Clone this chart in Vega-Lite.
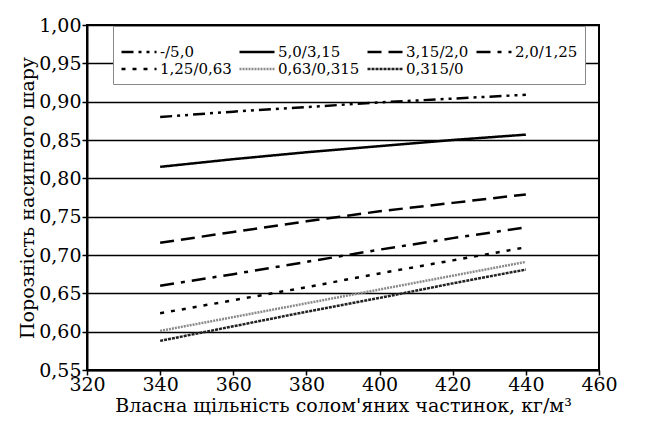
{
  "$schema": "https://vega.github.io/schema/vega-lite/v6.json",
  "width": 512,
  "height": 345,
  "autosize": {"type": "none"},
  "padding": {"left": 87, "top": 25, "right": 67, "bottom": 51},
  "background": "white",
  "config": {
    "font": "DejaVu Serif",
    "view": {"stroke": "black", "strokeWidth": 2},
    "axis": {"labelFont": "DejaVu Serif", "titleFont": "DejaVu Serif", "labelColor": "black", "titleColor": "black", "titleFontWeight": "normal", "domainColor": "black", "tickColor": "black"},
    "legend": {"labelFont": "DejaVu Serif"}
  },
  "data": {
    "values": [
      {"x": 340, "y": 0.880, "s": "-/5,0"}, {"x": 360, "y": 0.887, "s": "-/5,0"}, {"x": 380, "y": 0.893, "s": "-/5,0"}, {"x": 400, "y": 0.899, "s": "-/5,0"}, {"x": 420, "y": 0.904, "s": "-/5,0"}, {"x": 440, "y": 0.909, "s": "-/5,0"},
      {"x": 340, "y": 0.815, "s": "5,0/3,15"}, {"x": 360, "y": 0.825, "s": "5,0/3,15"}, {"x": 380, "y": 0.834, "s": "5,0/3,15"}, {"x": 400, "y": 0.842, "s": "5,0/3,15"}, {"x": 420, "y": 0.850, "s": "5,0/3,15"}, {"x": 440, "y": 0.857, "s": "5,0/3,15"},
      {"x": 340, "y": 0.716, "s": "3,15/2,0"}, {"x": 360, "y": 0.730, "s": "3,15/2,0"}, {"x": 380, "y": 0.744, "s": "3,15/2,0"}, {"x": 400, "y": 0.757, "s": "3,15/2,0"}, {"x": 420, "y": 0.768, "s": "3,15/2,0"}, {"x": 440, "y": 0.779, "s": "3,15/2,0"},
      {"x": 340, "y": 0.660, "s": "2,0/1,25"}, {"x": 360, "y": 0.675, "s": "2,0/1,25"}, {"x": 380, "y": 0.691, "s": "2,0/1,25"}, {"x": 400, "y": 0.707, "s": "2,0/1,25"}, {"x": 420, "y": 0.722, "s": "2,0/1,25"}, {"x": 440, "y": 0.736, "s": "2,0/1,25"},
      {"x": 340, "y": 0.624, "s": "1,25/0,63"}, {"x": 360, "y": 0.641, "s": "1,25/0,63"}, {"x": 380, "y": 0.658, "s": "1,25/0,63"}, {"x": 400, "y": 0.676, "s": "1,25/0,63"}, {"x": 420, "y": 0.693, "s": "1,25/0,63"}, {"x": 440, "y": 0.710, "s": "1,25/0,63"},
      {"x": 340, "y": 0.601, "s": "0,63/0,315"}, {"x": 360, "y": 0.619, "s": "0,63/0,315"}, {"x": 380, "y": 0.637, "s": "0,63/0,315"}, {"x": 400, "y": 0.655, "s": "0,63/0,315"}, {"x": 420, "y": 0.673, "s": "0,63/0,315"}, {"x": 440, "y": 0.691, "s": "0,63/0,315"},
      {"x": 340, "y": 0.588, "s": "0,315/0"}, {"x": 360, "y": 0.607, "s": "0,315/0"}, {"x": 380, "y": 0.626, "s": "0,315/0"}, {"x": 400, "y": 0.644, "s": "0,315/0"}, {"x": 420, "y": 0.663, "s": "0,315/0"}, {"x": 440, "y": 0.681, "s": "0,315/0"}
    ]
  },
  "mark": {"type": "line", "strokeWidth": 2.5},
  "encoding": {
    "x": {
      "field": "x", "type": "quantitative",
      "scale": {"domain": [320, 460], "nice": false, "zero": false},
      "axis": {
        "values": [320, 340, 360, 380, 400, 420, 440, 460],
        "grid": false, "domainWidth": 2, "tickWidth": 1.5, "tickSize": 5,
        "labelFontSize": 19, "labelPadding": 0, "labelFlush": false,
        "title": "Власна щільність солом'яних частинок, кг/м³",
        "titleFontSize": 19, "titlePadding": 2
      }
    },
    "y": {
      "field": "y", "type": "quantitative",
      "scale": {"domain": [0.55, 1.0], "nice": false, "zero": false},
      "axis": {
        "values": [0.55, 0.6, 0.65, 0.7, 0.75, 0.8, 0.85, 0.9, 0.95, 1.0],
        "labelExpr": "replace(format(datum.value, '.2f'), '.', ',')",
        "grid": true, "gridColor": "black", "gridWidth": 1.5, "gridOpacity": 1,
        "domainWidth": 2, "tickWidth": 1.5, "tickSize": 5,
        "labelFontSize": 19, "labelPadding": 1, "labelFlush": false,
        "title": "Порозність насипного шару",
        "titleFontSize": 19, "titlePadding": 1
      }
    },
    "color": {
      "field": "s", "type": "nominal",
      "scale": {
        "domain": ["-/5,0", "5,0/3,15", "3,15/2,0", "2,0/1,25", "1,25/0,63", "0,63/0,315", "0,315/0"],
        "range": ["black", "black", "black", "black", "black", "#8a8a8a", "#222222"]
      },
      "legend": {
        "title": null, "orient": "none", "legendX": 26, "legendY": 1,
        "direction": "horizontal", "columns": 4, "gridAlign": "none", "columnPadding": 2, "rowPadding": -10,
        "fillColor": "white", "strokeColor": "#888888", "padding": 7,
        "symbolType": "stroke", "symbolSize": 1225, "symbolStrokeWidth": 2.5,
        "labelFontSize": 15, "labelColor": "black", "labelOffset": 2
      }
    },
    "strokeDash": {
      "field": "s", "type": "nominal",
      "scale": {
        "domain": ["-/5,0", "5,0/3,15", "3,15/2,0", "2,0/1,25", "1,25/0,63", "0,63/0,315", "0,315/0"],
        "range": [[12, 5, 3, 5, 3, 5], [1, 0], [14, 7], [14, 7, 4, 7], [4, 7], [2, 1], [3, 1]]
      }
    }
  }
}
